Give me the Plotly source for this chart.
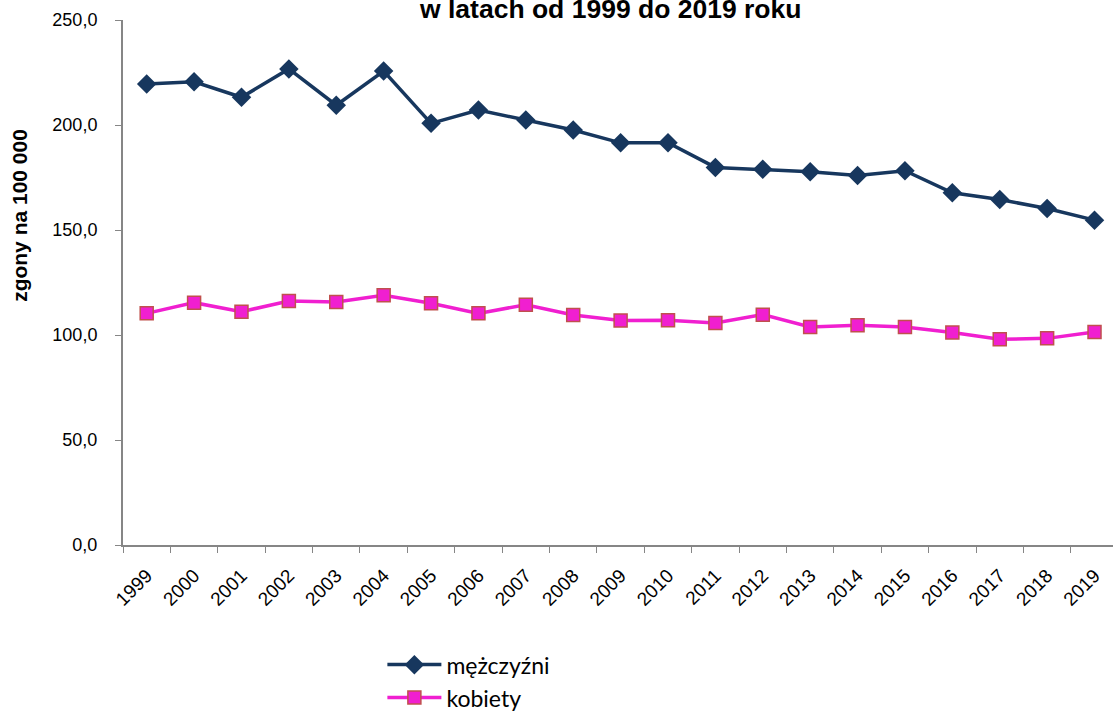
import plotly.graph_objects as go

# ---------------------------------------------------------------------------
# Dane – zgony na 100 000 (1999–2019)
# ---------------------------------------------------------------------------

years = [str(y) for y in range(1999, 2020)]

men = [219.5, 220.6, 213.2, 226.7, 209.4, 225.7, 200.8, 207.1, 202.4, 197.6,
       191.5, 191.6, 179.8, 178.9, 177.7, 176.0, 178.2, 167.7, 164.5, 160.2,
       154.7]

women = [110.3, 115.4, 111.1, 116.2, 115.7, 118.9, 115.1, 110.3, 114.4, 109.5,
         106.9, 107.0, 105.7, 109.7, 103.8, 104.6, 103.8, 101.2, 98.0, 98.4,
         101.4]

y_ticks = [0, 50, 100, 150, 200, 250]

AXIS_GREY = "#868686"

fig = go.Figure()
fig.add_trace(go.Scatter(
    x=years, y=men,
    name="mężczyźni",
    mode="lines+markers",
    line=dict(color="#17375E", width=3.5),
    marker=dict(symbol="diamond", size=15, color="#17375E"),
))
fig.add_trace(go.Scatter(
    x=years, y=women,
    name="kobiety",
    mode="lines+markers",
    line=dict(color="#F01FD0", width=3.5),
    marker=dict(symbol="square", size=13, color="#F01FD0",
                line=dict(color="#C0504D", width=1.5)),
))

# tytuł (górna linia ucięta w oryginale)
fig.add_annotation(
    text="<b>w latach od 1999 do 2019 roku</b>",
    xref="paper", yref="paper", x=0.492, y=1, yanchor="bottom",
    yshift=-6, showarrow=False,
    font=dict(family="Liberation Sans, Arial", size=26.5, color="black"),
)

# tytuł osi Y – nie jest wyśrodkowany względem wykresu
fig.add_annotation(
    text="<b>zgony na 100 000</b>",
    xref="paper", yref="paper", x=-0.104, y=0.627,
    xanchor="center", yanchor="middle", textangle=-90,
    showarrow=False,
    font=dict(family="Liberation Sans, Arial", size=21, color="black"),
)

fig.update_layout(
    width=1113, height=711,
    paper_bgcolor="white", plot_bgcolor="white",
    margin=dict(l=123, r=0, t=20, b=166, autoexpand=False),
    separators=", ",
    font=dict(family="Liberation Sans, Arial", size=18, color="black"),
    showlegend=True,
    legend=dict(
        x=0.262, xanchor="left", y=-0.187, yanchor="top",
        font=dict(family="Lato, Liberation Sans", size=23, color="black"),
        tracegroupgap=0, itemwidth=54,
    ),
)
fig.update_xaxes(
    type="category",
    range=[-0.5, 20.39],
    showline=True, linecolor=AXIS_GREY, linewidth=2,
    ticks="outside", ticklen=6, tickcolor=AXIS_GREY,
    tickson="boundaries",
    tickangle=-45, tickfont=dict(size=19),
    ticklabelstandoff=10,
    showgrid=False, zeroline=False, automargin=False,
)
fig.update_yaxes(
    range=[0, 250],
    tickvals=y_ticks, tickformat=".1f",
    showline=True, linecolor=AXIS_GREY, linewidth=2,
    ticks="outside", ticklen=6, tickcolor=AXIS_GREY,
    ticklabelstandoff=14,
    showgrid=False, zeroline=False, automargin=False,
)

# bez domyślnego marginesu body, żeby wykres zaczynał się w (0, 0)
fig.write_html(
    "out.html",
    config={"displayModeBar": False},
    post_script="document.body.style.margin='0';",
)
